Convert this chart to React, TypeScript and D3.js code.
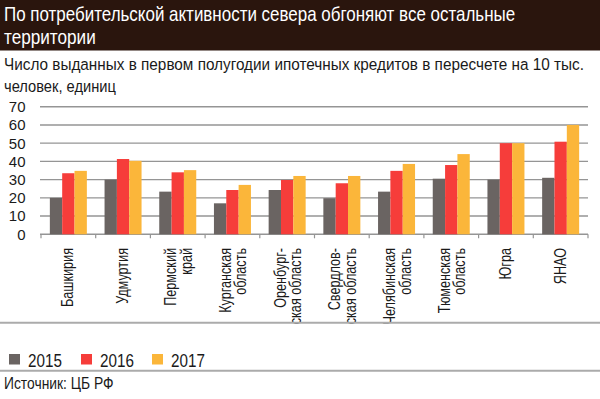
import React, { useLayoutEffect, useRef, useState } from 'react'
import * as d3 from 'd3'

const categories = [
  ['Башкирия'],
  ['Удмуртия'],
  ['Пермский', 'край'],
  ['Курганская', 'область'],
  ['Оренбург-', 'ская область'],
  ['Свердлов-', 'ская область'],
  ['Челябинская', 'область'],
  ['Тюменская', 'область'],
  ['Югра'],
  ['ЯНАО']
]
const years = ['2015', '2016', '2017']
const v2015 = [20, 30, 23.4, 17, 24.3, 19.8, 23.4, 30.5, 30, 31]
const v2016 = [33.5, 41.3, 34, 24.3, 29.8, 28, 34.8, 38, 50, 50.8]
const v2017 = [34.8, 40.3, 35.2, 27.1, 32, 32, 38.6, 44, 50, 60]
const yTicks = [0, 10, 20, 30, 40, 50, 60, 70]
const colors = ['#6a6462', '#f63d3a', '#fbb63a']

const title = ['По потребительской активности севера обгоняют все остальные', 'территории']
const subtitle = ['Число выданных в первом полугодии ипотечных кредитов в пересчете на 10 тыс.', 'человек, единиц']
const source = 'Источник: ЦБ РФ'

const font = '"Liberation Sans", Arial, sans-serif'

// Liberation Sans squeezed sideways, standing in for the condensed face
function Narrow(props: {
  x: number
  y: number
  size: number
  k: number
  fill?: string
  children: React.ReactNode
}) {
  return (
    <text
      transform={`translate(${props.x},${props.y}) scale(${props.k},1)`}
      fontFamily={font}
      fontSize={props.size}
      fill={props.fill || '#1a1a1a'}
    >
      {props.children}
    </text>
  )
}

// same, but squeezed to a measured width
function FitText(props: { x: number; y: number; size: number; w: number; fill?: string; children: string }) {
  const ref = useRef<SVGTextElement>(null)
  const [k, setK] = useState(0.85)
  useLayoutEffect(() => {
    if (ref.current) {
      const len = ref.current.getComputedTextLength()
      if (len > 0) setK(props.w / len)
    }
  }, [props.w, props.children])
  return (
    <text
      ref={ref}
      transform={`translate(${props.x},${props.y}) scale(${k},1)`}
      fontFamily={font}
      fontSize={props.size}
      fill={props.fill || '#1a1a1a'}
    >
      {props.children}
    </text>
  )
}

export default function App() {
  const width = 600
  const height = 399
  const left = 41
  const right = 588
  const series = [v2015, v2016, v2017]
  const keys = categories.map((c) => c.join(' '))

  const x = d3.scaleBand().domain(keys).range([left, right]).paddingInner(0).paddingOuter(0)
  const inner = d3
    .scaleBand()
    .domain(years)
    .range([x.bandwidth() / 2 - 18.5, x.bandwidth() / 2 + 18.5])
  const y = d3.scaleLinear().domain([0, 70]).range([234.3, 106.7])

  const boundaries = keys.map((k) => x(k) as number).concat([right])

  return (
    <svg
      width={width}
      height={height}
      style={{ position: 'absolute', left: 0, top: 0, background: '#fff' }}
    >
      <rect x={0} y={0} width={width} height={50.5} fill="#2a150d" />
      <FitText x={4} y={20.5} size={19.5} w={511} fill="#fff">
        {title[0]}
      </FitText>
      <Narrow x={4} y={44} size={19.5} k={0.88} fill="#fff">
        {title[1]}
      </Narrow>

      <FitText x={4} y={69.5} size={16.5} w={580}>
        {subtitle[0]}
      </FitText>
      <Narrow x={4} y={91.5} size={16.5} k={0.89}>
        {subtitle[1]}
      </Narrow>

      {/* grid and y labels */}
      <g>
        {yTicks.map((t) => (
          <g key={t}>
            <line x1={left - 1} x2={right} y1={y(t)} y2={y(t)} stroke="#959595" strokeWidth={1.4} />
            <text
              x={25.5}
              y={y(t)}
              dy="0.36em"
              textAnchor="end"
              fontFamily={font}
              fontSize={15}
              fill="#1a1a1a"
            >
              {t}
            </text>
          </g>
        ))}
        {boundaries.map((b, i) => (
          <line key={i} x1={b} x2={b} y1={y(0)} y2={y(0) + 4} stroke="#959595" strokeWidth={1.2} />
        ))}
      </g>

      {/* bars */}
      <g>
        {keys.map((k, ci) => (
          <g key={k} transform={`translate(${x(k)},0)`}>
            {series.map((s, si) => (
              <rect
                key={si}
                x={inner(years[si])}
                y={y(s[ci])}
                width={inner.bandwidth()}
                height={y(0) - y(s[ci])}
                fill={colors[si]}
              />
            ))}
          </g>
        ))}
      </g>

      {/* category labels */}
      <g fontFamily={font} fontSize={16} fill="#1a1a1a">
        {categories.map((lines, ci) => {
          const cx = (x(keys[ci]) as number) + x.bandwidth() / 2
          const offs = lines.length === 1 ? [5] : [-1.5, 14]
          return (
            <text key={ci} transform={`translate(${cx},248) rotate(-90) scale(0.79,1)`} textAnchor="end">
              {lines.map((l, li) => (
                <tspan key={li} x={0} y={offs[li]}>
                  {l}
                </tspan>
              ))}
            </text>
          )
        })}
      </g>

      <line x1={0} x2={width} y1={322.7} y2={322.7} stroke="#ababab" strokeWidth={2} />

      {/* legend */}
      {years.map((yr, i) => {
        const lx = [9, 81, 152][i]
        return (
          <g key={yr}>
            <rect x={lx} y={354} width={11} height={10.5} fill={colors[i]} />
            <Narrow x={lx + 19} y={367} size={17.5} k={0.87}>
              {yr}
            </Narrow>
          </g>
        )
      })}

      <line x1={0} x2={width} y1={370.7} y2={370.7} stroke="#ababab" strokeWidth={2} />

      <Narrow x={4} y={389} size={16.5} k={0.84}>
        {source}
      </Narrow>
    </svg>
  )
}
